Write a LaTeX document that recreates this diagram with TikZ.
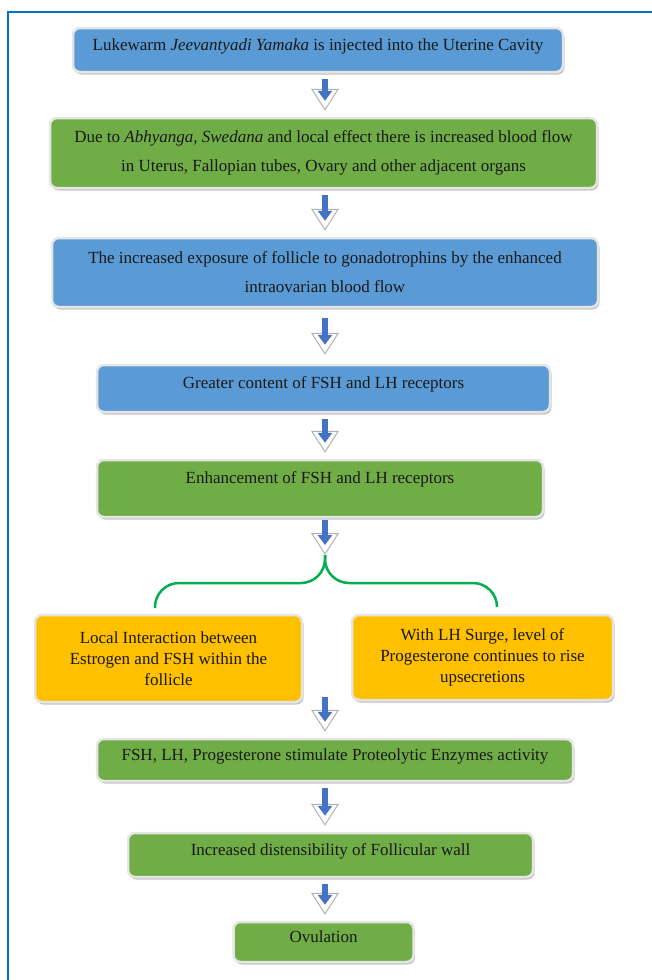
\documentclass[tikz,border=0pt]{standalone}
\usepackage{fontspec}
\setmainfont{Liberation Serif}
\usepackage{tikz}
\usetikzlibrary{arrows.meta,positioning,calc,shadows}
\usepackage{xcolor}
\definecolor{boxblue}{RGB}{91,155,213}
\definecolor{boxgreen}{RGB}{112,173,71}
\definecolor{boxorange}{RGB}{255,192,0}
\definecolor{arrowblue}{RGB}{68,114,196}
\definecolor{bracegreen}{RGB}{0,176,80}
\definecolor{frameblue}{RGB}{0,112,192}

\begin{document}
\begin{tikzpicture}[
    x=1pt, y=-1pt,
    stepbox/.style={draw=black!10,line width=2.5pt,rounded corners=7pt,align=center,
        font=\rmfamily\fontsize{17}{29}\selectfont,text=black!90,
        drop shadow={shadow xshift=1.5pt,shadow yshift=-2.5pt,fill=black!45,opacity=0.5}},
    oneline/.style={text height=12pt,text depth=12pt},
    bigarr/.style={white,line width=0.6pt,shorten <=6pt,shorten >=6pt,
        -{Triangle[width=28pt,length=22pt,color=black!30,fill=white,line width=1pt]}},
    bluearr/.style={arrowblue,line width=6pt,shorten <=6pt,shorten >=16pt,
        -{Triangle[width=14pt,length=10pt]}},
    brace/.style={bracegreen,line width=2.5pt,rounded corners=24pt}
]
\useasboundingbox (0,0) rectangle (652,980);
\draw[frameblue,line width=1.5pt] (8,980) |- (652,12);
\coordinate (axis) at (325,0);

% Upper chain
\node[stepbox,oneline,fill=boxblue,minimum width=490pt,minimum height=44pt] (b1) at (318,50)
    {Lukewarm \textit{Jeevantyadi Yamaka} is injected into the Uterine Cavity};
\node[stepbox,fill=boxgreen,minimum width=547pt,minimum height=70pt] (b2) at (323.5,153)
    {Due to \textit{Abhyanga, Swedana} and local effect there is increased blood flow\\in Uterus, Fallopian tubes, Ovary and other adjacent organs};
\node[stepbox,fill=boxblue,minimum width=546pt,minimum height=69pt] (b3) at (325,272.5)
    {The increased exposure of follicle to gonadotrophins by the enhanced\\intraovarian blood flow};
\node[stepbox,oneline,fill=boxblue,minimum width=453pt,minimum height=47pt] (b4) at (323.5,388.5)
    {Greater content of FSH and LH receptors};
\node[stepbox,fill=boxgreen,minimum width=446pt,minimum height=57pt,text height=12pt,text depth=22pt] (b5) at (320,488.5)
    {Enhancement of FSH and LH receptors};
\draw[bigarr] (b1.south -| axis) -- (b2.north -| axis);
\draw[bluearr] (b1.south -| axis) -- (b2.north -| axis);
\draw[bigarr] (b2.south -| axis) -- (b3.north -| axis);
\draw[bluearr] (b2.south -| axis) -- (b3.north -| axis);
\draw[bigarr,shorten <=10pt,shorten >=9pt] (b3.south -| axis) -- (b4.north -| axis);
\draw[bluearr,shorten <=10pt,shorten >=19pt] (b3.south -| axis) -- (b4.north -| axis);
\draw[bigarr] (b4.south -| axis) -- (b5.north -| axis);
\draw[bluearr] (b4.south -| axis) -- (b5.north -| axis);

% Split into two
\coordinate (split) at (325,555);
\coordinate (lend) at ($(split)+(-170,53)$);
\coordinate (rend) at ($(split)+(172,52)$);
\draw[bigarr,shorten <=2pt,shorten >=0pt] (b5.south -| axis) -- (split);
\draw[bluearr,shorten <=2pt,shorten >=10pt] (b5.south -| axis) -- (split);
\draw[brace] (split) |- ($(lend)+(0,-25)$) -- (lend);
\draw[brace] (split) |- ($(rend)+(0,-24)$) -- (rend);
\node[stepbox,fill=boxorange,minimum width=267pt,minimum height=87pt,font=\rmfamily\fontsize{17}{21}\selectfont] (b6) at (168.5,658.5)
    {Local Interaction between\\Estrogen and FSH within the\\follicle};
\node[stepbox,fill=boxorange,minimum width=261pt,minimum height=85pt,font=\rmfamily\fontsize{17}{21}\selectfont] (b7) at (482.5,657.5)
    {With LH Surge, level of\\Progesterone continues to rise\\upsecretions};

% Lower chain
\coordinate (join) at (325,691);
\node[stepbox,oneline,fill=boxgreen,minimum width=476pt,minimum height=42pt] (b8) at (335,760)
    {FSH, LH, Progesterone stimulate Proteolytic Enzymes activity};
\node[stepbox,oneline,fill=boxgreen,minimum width=405pt,minimum height=44pt] (b9) at (330.5,855)
    {Increased distensibility of Follicular wall};
\node[stepbox,oneline,fill=boxgreen,minimum width=180pt,minimum height=40pt] (b10) at (323.5,942)
    {Ovulation};
\draw[bigarr] (join) -- (b8.north -| axis);
\draw[bluearr] (join) -- (b8.north -| axis);
\draw[bigarr] (b8.south -| axis) -- (b9.north -| axis);
\draw[bluearr] (b8.south -| axis) -- (b9.north -| axis);
\draw[bigarr] (b9.south -| axis) -- (b10.north -| axis);
\draw[bluearr] (b9.south -| axis) -- (b10.north -| axis);
\end{tikzpicture}
\end{document}
